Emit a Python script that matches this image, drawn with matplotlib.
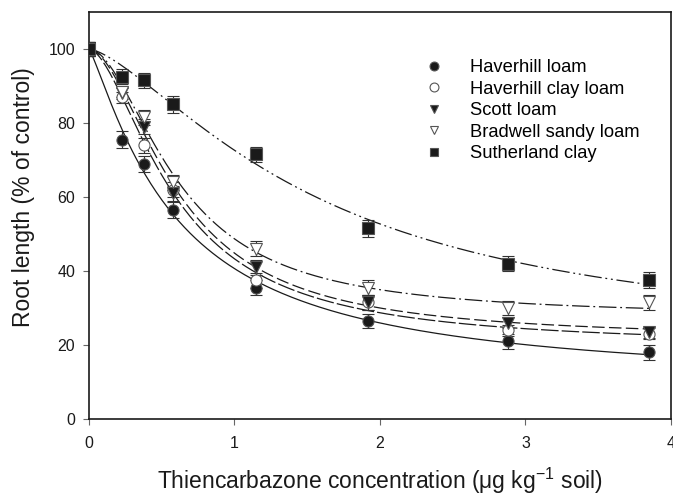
import numpy as np
import matplotlib
matplotlib.use("Agg")
import matplotlib.pyplot as plt

plt.rcParams['font.family'] = ['Liberation Sans', 'DejaVu Sans']
plt.rcParams['mathtext.fontset'] = 'custom'
plt.rcParams['mathtext.rm'] = 'Liberation Sans'

# concentrations (ug kg-1 soil)
conc = [0, 0.23, 0.38, 0.58, 1.15, 1.92, 2.88, 3.85]

# root length, % of control
haverhill_loam = [100, 75.5, 69, 56.5, 35.5, 26.5, 21, 18]
haverhill_clay = [100, 87, 74, 62, 37.5, 31.5, 24, 23]
scott_loam = [100, 88, 79, 61, 41, 31.5, 26, 23.5]
bradwell = [100, 88.5, 81.5, 64, 46, 35.5, 30, 31.5]
sutherland = [100, 92.5, 91.5, 85, 71.5, 51.5, 42, 37.5]

# standard errors
err_hl = [2, 2.2, 2.2, 2.2, 2, 2, 2, 2]
err_hc = [2, 1.5, 2, 2, 2, 2, 1.5, 1.5]
err_sl = [2, 1.5, 2, 2, 2, 2, 1.5, 1.5]
err_bw = [2, 1.5, 2, 2, 2, 2, 2, 2]
err_su = [2, 2, 2, 2.2, 2, 2.2, 2, 2.2]

labels = ['Haverhill loam', 'Haverhill clay loam', 'Scott loam',
          'Bradwell sandy loam', 'Sutherland clay']


def fit_loglogistic(x, y):
    # y = c + (100-c) / (1 + (x/e)^b), brute-force least squares
    x = np.asarray(x, float)
    y = np.asarray(y, float)
    cs = np.arange(0, 45, 0.5)
    es = np.arange(0.1, 3.5, 0.02)
    bs = np.arange(0.8, 4.0, 0.05)
    C, E, B = np.meshgrid(cs, es, bs, indexing='ij')
    pred = C[..., None] + (100 - C[..., None]) / (1 + (x / E[..., None]) ** B[..., None])
    sse = ((pred - y) ** 2).sum(-1)
    i = np.unravel_index(np.argmin(sse), sse.shape)
    return cs[i[0]], es[i[1]], bs[i[2]]


fig = plt.figure(figsize=(6.73, 4.99), dpi=100)
ax = fig.add_axes([0.1322, 0.1603, 0.8648, 0.8157])

series = [haverhill_loam, haverhill_clay, scott_loam, bradwell, sutherland]
errs = [err_hl, err_hc, err_sl, err_bw, err_su]
markers = ['o', 'o', 'v', 'v', 's']
faces = ['#1a1a1a', 'white', '#1a1a1a', 'white', '#1a1a1a']
dashes = ['-', (0, (14, 2.5)), (0, (10, 3.5)), (0, (14, 3, 1.5, 3)),
          (0, (14, 3, 1.5, 3, 1.5, 3))]

xx = np.linspace(0, 3.85, 300)
for y, e, m, fc, ls, lab in zip(series, errs, markers, faces, dashes, labels):
    c, ed, b = fit_loglogistic(conc, y)
    ax.plot(xx, c + (100 - c) / (1 + (xx / ed) ** b), color='#1a1a1a',
            lw=0.9, ls=ls, zorder=2)
    ax.errorbar(conc, y, yerr=e, fmt='none', ecolor='#333333', elinewidth=0.8,
                capsize=4, capthick=0.8, zorder=3)
    ax.plot(conc, y, ls='none', marker=m, markersize=8, markerfacecolor=fc,
            markeredgecolor='#555555', markeredgewidth=0.8, label=lab, zorder=4)

ax.set_xlim(0, 4)
ax.set_ylim(0, 110)
ax.set_xticks([0, 1, 2, 3, 4])
ax.set_yticks([0, 20, 40, 60, 80, 100])
ax.tick_params(direction='out', length=4.5, width=0.8, color='#666666',
               labelsize=11.5, labelcolor='#1a1a1a')
ax.tick_params(axis='x', pad=8)
ax.tick_params(axis='y', pad=5.5)
for sp in ax.spines.values():
    sp.set_linewidth(1.2)
    sp.set_color('#1a1a1a')

ax.set_xlabel('Thiencarbazone concentration (μg kg$^{\\mathrm{-1}}$ soil)',
              fontsize=16.5, color='#1a1a1a')
ax.set_ylabel('Root length (% of control)', fontsize=16.5, color='#1a1a1a')
ax.xaxis.set_label_coords(0.5, -0.115)
ax.yaxis.set_label_coords(-0.113, 0.544)
ax.yaxis.label.set_va('center')

ax.legend(loc='upper left', bbox_to_anchor=(0.548, 0.925), frameon=False,
          fontsize=13.2, handlelength=1.0, handletextpad=1.5,
          labelspacing=0.25, markerscale=0.8)

fig.savefig('out.png', dpi=100)
